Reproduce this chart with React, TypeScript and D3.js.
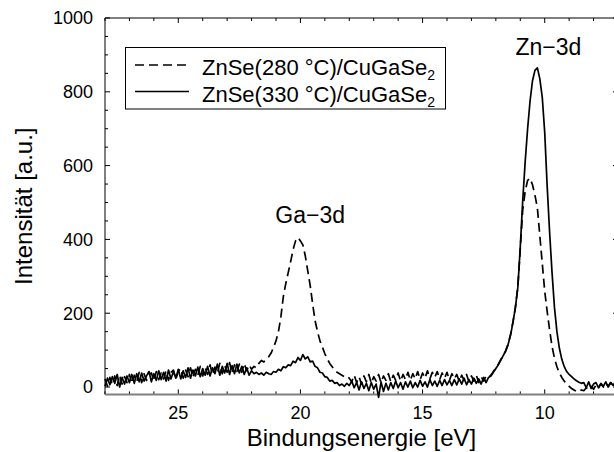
import React from "react";
import { scaleLinear, line, range } from "d3";

// binding energy grid, 28.0 eV down to 7.0 eV in 0.1 eV steps
const energies = range(211).map((i) => +(28 - i * 0.1).toFixed(1));

// ZnSe(280 °C)/CuGaSe2 - dashed
const intensity280 = [
  22, 2, 26, 6, 30, 4, 32, 8, 28, 12,
  34, 10, 32, 14, 40, 12, 36, 18, 34, 38,
  16, 42, 20, 38, 22, 44, 18, 40, 46, 22,
  42, 50, 24, 46, 28, 52, 26, 48, 32, 56,
  30, 52, 34, 60, 34, 54, 38, 64, 36, 58,
  40, 66, 38, 60, 42, 62, 40, 64, 44, 60,
  48, 56, 52, 64, 72, 68, 76, 82, 92, 108,
  125, 150, 190, 245, 280, 310, 340, 372, 396, 405,
  396, 385, 355, 315, 275, 225, 180, 150, 125, 108,
  90, 76, 64, 55, 46, 40, 36, 32, 28, 30,
  24,
  14, 32, 12, 28, 8, 30, 14, 34, 10, 28,
  16, 34, 12, 30, 18, 36, 14, 32, 18, 38,
  16, 34, 20, 40, 18, 36, 22, 42, 20, 38,
  24, 44, 22, 40, 26, 42, 20, 38, 24, 40,
  18, 36, 22, 34, 16, 32, 18, 34, 14, 30,
  16, 32, 12, 28, 16, 30, 26,
  32, 42, 52, 62, 74, 86, 98, 116, 142, 176,
  216, 272, 375, 480, 530, 560, 566, 548, 520, 485,
  410, 335, 260, 205, 155, 110, 78, 55, 38, 26,
  16, 8, 2, -4, -8, -12, -13, -8,
  -10, -2, -8, 2, -6, 6, -2, 8, 0, 10, 2, 12, 4, 14, 8,
];

// ZnSe(330 °C)/CuGaSe2 - solid
const intensity330 = [
  2, 24, 6, 28, 10, 34, 0, 26, 8, 30,
  12, 34, 10, 36, 14, 38, 16, 30, 42, 14,
  36, 18, 44, 20, 40, 16, 46, 22, 42, 24,
  48, 22, 44, 26, 52, 24, 46, 30, 54, 28,
  50, 32, 56, 30, 52, 36, 62, 32, 56, 38,
  64, 34, 58, 36, 62, 38, 56, 34, 52, 32,
  44,
  36, 40, 34, 38, 32, 40, 36, 34, 42, 40,
  48, 44, 55, 52, 60, 58, 70, 66, 80, 72,
  88, 76, 82, 68, 70, 56, 52, 40, 38, 28,
  26, 16, 18, 10, 12, 4, 8, 2, 10, 4,
  16, -2, 12, -8, 14, -4, 10, -10, 12, -6,
  8, -28, 14, -12, 10, -8, 12, -4, 16, -2,
  12, -6, 14, 0, 16, -2, 12, 0, 18, 2,
  14, 0, 20, 4, 16, 2, 18, 4, 20, 6,
  18, 4, 20, 6, 22, 8, 24, 6, 20, 8,
  24, 10, 22, 8, 26, 12, 26,
  30, 40, 50, 60, 72, 85, 97, 115, 140, 175,
  215, 270, 380, 505, 610, 700, 775, 830, 858, 865,
  835, 785, 690, 545, 420, 310, 215, 150, 105, 75,
  55, 42, 34, 28, 22, 17, 13, 10,
  12, -2, 14, -4, 8, 12, -2, 10, 2, 14, 0, 12, 4, 16, 10,
];

const seriesNames = ["ZnSe(280 °C)/CuGaSe", "ZnSe(330 °C)/CuGaSe"];
const peakLabels = [
  { text: "Ga−3d", energy: 19.6, value: 445 },
  { text: "Zn−3d", energy: 9.85, value: 900 },
];

const font = "'Liberation Sans', Arial, sans-serif";

export default function App() {
  const width = 614;
  const height = 452;
  const margin = { left: 105, right: 618, top: 18, bottom: 394.4 };

  const xScale = scaleLinear().domain([28, 7]).range([margin.left, margin.right]);
  const yScale = scaleLinear().domain([-20, 1000]).range([margin.bottom, margin.top]);

  const path = line<number>()
    .x((_, i) => xScale(energies[i]))
    .y((d) => yScale(d));

  const xMajor = xScale.ticks(4);
  const xMinor = xScale.ticks(21).filter((t) => !xMajor.includes(t));
  const yMajor = yScale.ticks(5);
  const yMinor = yScale.ticks(20).filter((t) => t >= 0 && !yMajor.includes(t));

  const dash = "9,5";

  return (
    <svg
      width={width}
      height={height}
      style={{ position: "absolute", left: 0, top: 0, background: "#fff" }}
      fontFamily={font}
    >
      {/* frame */}
      <line x1={margin.left} x2={margin.right} y1={margin.top} y2={margin.top} stroke="#000" />
      <line x1={margin.left} x2={margin.left} y1={margin.top} y2={margin.bottom} stroke="#000" />
      <line x1={margin.right} x2={margin.right} y1={margin.top} y2={margin.bottom} stroke="#000" />

      {/* x ticks, bottom and top */}
      {xMajor.concat(xMinor).map((t, i) => {
        const len = xMajor.includes(t) ? 5 : 3;
        const x = xScale(t);
        return (
          <g key={"xt" + i}>
            <line x1={x} x2={x} y1={margin.bottom} y2={margin.bottom - len} stroke="#000" />
            <line x1={x} x2={x} y1={margin.top} y2={margin.top + len} stroke="#000" />
          </g>
        );
      })}
      {xMajor.map((t) => (
        <text key={"xl" + t} x={xScale(t)} y={419} fontSize={18} textAnchor="middle">
          {t}
        </text>
      ))}

      {/* y ticks, left and right */}
      {yMajor.concat(yMinor).map((t, i) => {
        const len = yMajor.includes(t) ? 5 : 3;
        const y = yScale(t);
        return (
          <g key={"yt" + i}>
            <line x1={margin.left} x2={margin.left + len} y1={y} y2={y} stroke="#000" />
            <line x1={margin.right} x2={margin.right - len} y1={y} y2={y} stroke="#000" />
          </g>
        );
      })}
      {yMajor.map((t) => (
        <text key={"yl" + t} x={93} y={yScale(t)} dy="0.35em" fontSize={18} textAnchor="end">
          {t}
        </text>
      ))}

      <line x1={margin.left} x2={margin.right} y1={margin.bottom} y2={margin.bottom} stroke="#808080" strokeWidth={2} />

      {/* curves */}
      <path d={path(intensity280) || ""} fill="none" stroke="#000" strokeWidth={1.7} strokeDasharray={dash} strokeLinejoin="round" />
      <path d={path(intensity330) || ""} fill="none" stroke="#000" strokeWidth={1.7} strokeLinejoin="round" />

      {/* peak labels */}
      {peakLabels.map((p) => (
        <text key={p.text} x={xScale(p.energy)} y={yScale(p.value)} fontSize={23} textAnchor="middle">
          {p.text}
        </text>
      ))}

      {/* legend */}
      <rect x={125.5} y={47.5} width={320} height={61.5} fill="#fff" stroke="#000" />
      {seriesNames.map((name, i) => {
        const y = 65 + i * 26.5;
        return (
          <g key={name}>
            <line x1={135} x2={189} y1={y} y2={y} stroke="#000" strokeWidth={1.7} strokeDasharray={i === 0 ? dash : undefined} />
            <text x={202} y={y + 10} fontSize={22}>
              {name}
              <tspan fontSize={14} dy={5}>2</tspan>
            </text>
          </g>
        );
      })}

      {/* axis titles */}
      <text x={(margin.left + margin.right) / 2} y={446} fontSize={24} textAnchor="middle">
        Bindungsenergie [eV]
      </text>
      <text
        transform={`translate(32,${(margin.top + margin.bottom) / 2}) rotate(-90)`}
        fontSize={24}
        textAnchor="middle"
      >
        Intensität [a.u.]
      </text>
    </svg>
  );
}
